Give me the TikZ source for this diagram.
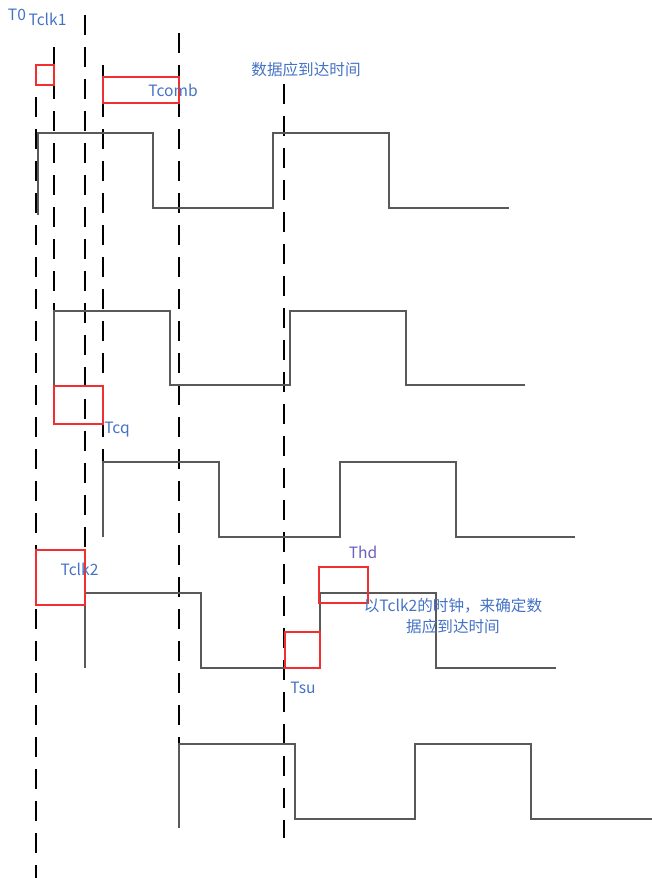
\documentclass[tikz,border=0pt]{standalone}
\usepackage{fontspec}
\setmainfont{Noto Sans CJK SC}
\usepackage{xcolor}
\usepackage{tikz}
\definecolor{labelblue}{HTML}{4472C4}
\definecolor{holdpurple}{HTML}{6A5FC0}
\definecolor{winred}{HTML}{F03030}

\begin{document}
\begin{tikzpicture}[
  x=1pt, y=-1pt,
  wave/.style={draw=black!65, line width=1.2pt},
  guide/.style={draw=black, line width=1.3pt, dash pattern=on 20pt off 12pt},
  win/.style={draw=winred, line width=1.2pt},
  lbl/.style={text=labelblue, inner sep=0pt, font=\fontsize{15.6}{21}\selectfont},
  note/.style={lbl, align=center}
]
\useasboundingbox (0,0) rectangle (652,878);
% dashed time marks
\draw[guide] (36,65) -- (36,878);
\draw[guide] (54,47) -- (54,311);
\draw[guide] (85,15) -- (85,593);
\draw[guide] (103,65) -- (103,462);
\draw[guide] (179,33) -- (179,744);
\draw[guide] (284,84) -- (284,838);
% waveforms
\draw[wave] (38,215) -- (38,133) -- (153,133) -- (153,208) -- (273,208) -- (273,133) -- (389,133) -- (389,208) -- (509,208);
\draw[wave] (54,385) -- (54,311) -- (170,311) -- (170,385) -- (290,385) -- (290,311) -- (406,311) -- (406,385) -- (525,385);
\draw[wave] (103,537) -- (103,462) -- (219,462) -- (219,537) -- (340,537) -- (340,462) -- (456,462) -- (456,537) -- (575,537);
\draw[wave] (85,668) -- (85,593) -- (201,593) -- (201,668) -- (320,668) -- (320,593) -- (436,593) -- (436,668) -- (556,668);
\draw[wave] (179,828) -- (179,744) -- (295,744) -- (295,819) -- (415,819) -- (415,744) -- (531,744) -- (531,819) -- (652,819);
% timing windows
\draw[win] (36,65) rectangle (54,85);
\draw[win] (103,77) rectangle (179,103);
\draw[win] (54,386) rectangle (103,424);
\draw[win] (36,550) rectangle (85,605);
\draw[win] (285,632) rectangle (320,668);
\draw[win] (319,567) rectangle (368,603);
% labels
\node[lbl] (t0) at (17,15) {T0};
\node[lbl] (tclk1) at (47.5,19) {Tclk1};
\node[lbl] (tcomb) at (173,90) {Tcomb};
\node[lbl] (arrive) at (306,70) {数据应到达时间};
\node[lbl] (tcq) at (117,430) {Tcq};
\node[lbl] (tclk2) at (79.5,569) {Tclk2};
\node[lbl] (tsu) at (303,688) {Tsu};
\node[lbl, text=holdpurple] (thd) at (363,552) {Thd};
\node[note] (clknote) at (453,616) {以Tclk2的时钟，来确定数\\据应到达时间};
\end{tikzpicture}
\end{document}
